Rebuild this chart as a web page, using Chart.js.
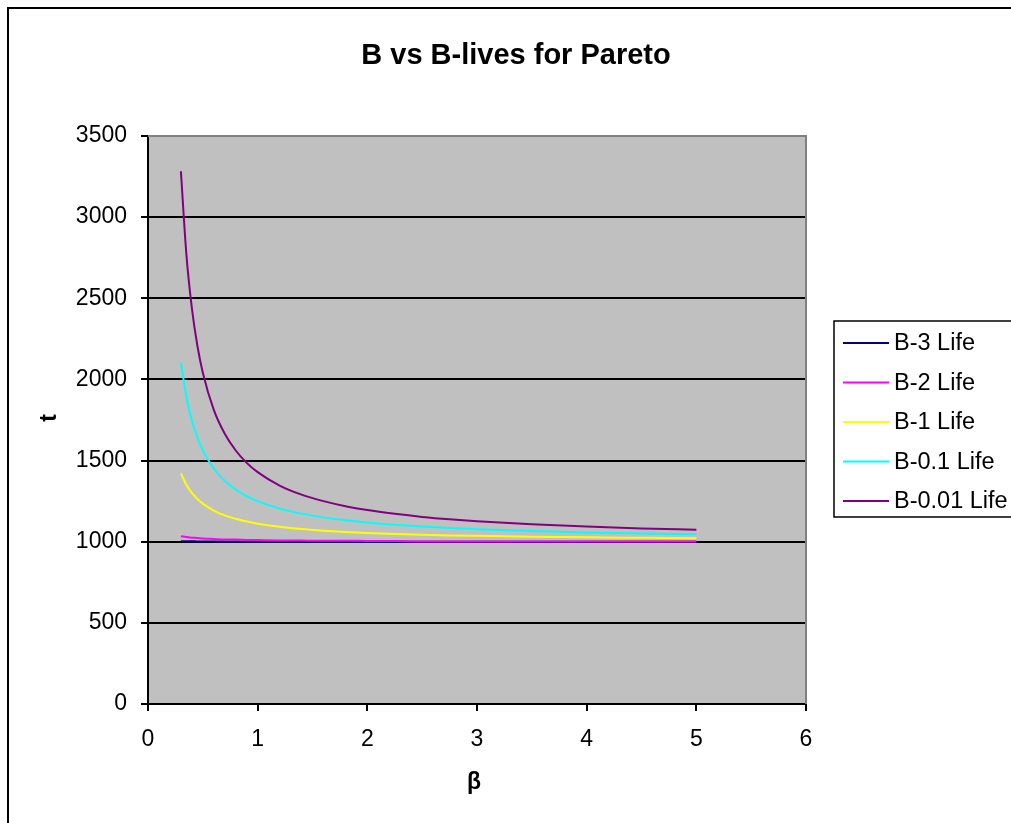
<!DOCTYPE html>
<html>
<head>
<meta charset="utf-8">
<script src="https://cdn.jsdelivr.net/npm/chart.js@4"></script>
<style>
  html, body { margin: 0; padding: 0; background: #fff; }
</style>
</head>
<body>
<canvas id="myChart" width="1011" height="823"></canvas>
<script>
// beta values on the x axis
const beta = [0.3, 0.35, 0.4, 0.45, 0.5, 0.6, 0.7, 0.8, 0.9, 1.0, 1.2, 1.4, 1.6, 1.8, 2.0, 2.25, 2.5, 2.75, 3.0, 3.5, 4.0, 4.5, 5.0];

// B-life values (t)
const b3_life = [1003, 1003, 1003, 1002, 1002, 1002, 1001, 1001, 1001, 1001, 1001, 1001, 1001, 1001, 1000, 1000, 1000, 1000, 1000, 1000, 1000, 1000, 1000];
const b2_life = [1034, 1029, 1025, 1023, 1020, 1017, 1014, 1013, 1011, 1010, 1008, 1007, 1006, 1006, 1005, 1004, 1002, 1002, 1002, 1002, 1002, 1002, 1002];
const b1_life = [1421, 1351, 1301, 1264, 1235, 1192, 1162, 1141, 1124, 1111, 1092, 1078, 1068, 1060, 1054, 1048, 1043, 1039, 1036, 1031, 1027, 1024, 1021];
const b01_life = [2104, 1892, 1747, 1642, 1563, 1451, 1375, 1322, 1281, 1250, 1204, 1173, 1150, 1132, 1118, 1104, 1093, 1085, 1077, 1066, 1057, 1051, 1046];
const b001_life = [3283, 2771, 2439, 2209, 2041, 1812, 1665, 1562, 1486, 1429, 1346, 1290, 1250, 1219, 1195, 1172, 1153, 1138, 1126, 1107, 1093, 1082, 1074];

const series_labels = ["B-3 Life", "B-2 Life", "B-1 Life", "B-0.1 Life", "B-0.01 Life"];
const series_values = [b3_life, b2_life, b1_life, b01_life, b001_life];
const series_colors = ["#000080", "#FF00FF", "#FFFF00", "#00FFFF", "#800080"];

const font_family = "'Liberation Sans', Arial, sans-serif";

const points = (values) => beta.map((b, i) => ({ x: b, y: values[i] }));

// excel style frame, plot area, titles and legend
const excelLook = {
  id: "excelLook",
  beforeDraw(chart) {
    const c = chart.ctx;
    const a = chart.chartArea;
    c.save();
    c.fillStyle = "#fff";
    c.fillRect(0, 0, chart.width, chart.height);
    c.strokeStyle = "#000";
    c.lineWidth = 2;
    c.strokeRect(8, 8, 1100, 900);
    c.fillStyle = "#C0C0C0";
    c.fillRect(a.left, a.top, a.right - a.left, a.bottom - a.top);
    c.restore();
  },
  beforeDatasetsDraw(chart) {
    const c = chart.ctx;
    const a = chart.chartArea;
    c.save();
    c.strokeStyle = "#808080";
    c.lineWidth = 2;
    c.beginPath();
    c.moveTo(a.left, a.top);
    c.lineTo(a.right, a.top);
    c.lineTo(a.right, a.bottom);
    c.stroke();
    c.restore();
  },
  afterDraw(chart) {
    const c = chart.ctx;
    c.save();
    c.fillStyle = "#000";
    c.textAlign = "center";
    c.textBaseline = "middle";
    c.font = "bold 29px " + font_family;
    c.fillText("B vs B-lives for Pareto", 516, 56);
    c.font = "bold 23px " + font_family;
    c.fillText("β", 474, 783);
    c.translate(50, 418);
    c.rotate(-Math.PI / 2);
    c.fillText("t", 0, 0);
    c.restore();

    // legend
    c.save();
    c.strokeStyle = "#000";
    c.lineWidth = 1.5;
    c.strokeRect(834, 321, 200, 196);
    c.font = "23.5px " + font_family;
    c.textAlign = "left";
    c.textBaseline = "middle";
    chart.data.datasets.forEach((ds, i) => {
      const y = 343 + i * 39.5;
      c.strokeStyle = ds.borderColor;
      c.lineWidth = 2;
      c.beginPath();
      c.moveTo(843, y);
      c.lineTo(889, y);
      c.stroke();
      c.fillStyle = "#000";
      c.fillText(ds.label, 894, y + 1);
    });
    c.restore();
  },
};

const ctx = document.getElementById("myChart").getContext("2d");
const myChart = new Chart(ctx, {
  type: "scatter",
  data: {
    datasets: series_labels.map((label, i) => ({
      label: label,
      data: points(series_values[i]),
      borderColor: series_colors[i],
      backgroundColor: series_colors[i],
      borderWidth: 2,
      pointRadius: 0,
      showLine: true,
      cubicInterpolationMode: "monotone",
      order: series_labels.length - i,
    })),
  },
  options: {
    responsive: false,
    animation: false,
    layout: { padding: { top: 136, right: 205, left: 0, bottom: 0 } },
    plugins: {
      legend: { display: false },
      title: { display: false },
      tooltip: { enabled: false },
    },
    scales: {
      x: {
        type: "linear",
        min: 0,
        max: 6,
        ticks: { stepSize: 1, color: "#000", padding: 15, font: { family: font_family, size: 23 }, callback: (v) => String(v) },
        grid: { drawOnChartArea: false, color: "#000", lineWidth: 2, tickLength: 7 },
        border: { color: "#000", width: 2 },
        afterFit(scale) { scale.height = 119; },
      },
      y: {
        min: 0,
        max: 3500,
        ticks: { stepSize: 500, color: "#000", padding: 14, font: { family: font_family, size: 23 }, callback: (v) => String(v) },
        grid: { color: "#000", lineWidth: 2, tickLength: 7 },
        border: { color: "#000", width: 2 },
        afterFit(scale) { scale.width = 148; },
      },
    },
  },
  plugins: [excelLook],
});
</script>
</body>
</html>
